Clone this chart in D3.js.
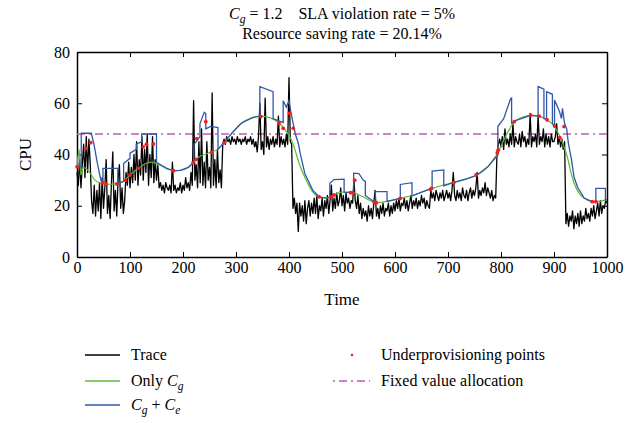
<!DOCTYPE html>
<html>
<head>
<meta charset="utf-8">
<script src="https://cdn.jsdelivr.net/npm/d3@7"></script>
<style>
  body { margin: 0; background: #fff; }
  text { font-family: "Liberation Serif", "DejaVu Serif", serif; }
</style>
</head>
<body>
<script>
  // trace, sampled every 2.5 time units (0..1000)
  let traceStep = 2.5;
  let traceValues = [
    33, 28, 38, 27, 36, 44, 31, 47, 33, 46, 36, 22, 17, 28, 16, 26, 18, 29, 15, 31,
    19, 27, 38, 17, 24, 15, 29, 41, 18, 26, 16, 30, 36, 19, 27, 17, 22, 33, 28, 37,
    27, 35, 29, 40, 30, 45, 28, 38, 32, 47, 30, 42, 33, 48, 28, 40, 31, 47, 29, 38,
    30, 36, 27, 29, 26, 28, 25, 29, 27, 26, 28, 25, 37, 26, 28, 25, 27, 26, 29, 25,
    28, 26, 31, 27, 29, 26, 33, 28, 61, 30, 36, 27, 45, 29, 50, 28, 37, 27, 45, 30,
    35, 27, 64, 28, 38, 27, 42, 29, 34, 27, 44, 46, 44, 47, 45, 46, 44, 47, 45, 46,
    44, 47, 45, 46, 44, 46, 45, 47, 44, 46, 45, 47, 44, 46, 43, 45, 41, 47, 60, 42,
    45, 40, 62, 43, 47, 42, 46, 44, 47, 43, 46, 44, 55, 43, 47, 44, 46, 43, 48, 44,
    70, 45, 44, 19, 23, 17, 21, 10, 21, 16, 20, 14, 22, 13, 19, 22, 16, 21, 17, 23,
    17, 24, 15, 20, 18, 23, 16, 22, 19, 24, 17, 22, 28, 18, 23, 19, 25, 20, 22, 27,
    20, 24, 18, 25, 21, 23, 19, 22, 21, 30, 22, 19, 24, 17, 21, 15, 19, 16, 18, 14,
    20, 16, 19, 15, 21, 26, 16, 19, 15, 20, 17, 21, 16, 19, 18, 21, 16, 20, 17, 21,
    18, 22, 19, 23, 18, 21, 20, 23, 19, 22, 18, 21, 24, 19, 22, 20, 23, 19, 22, 20,
    24, 21, 23, 19, 22, 20, 19, 26, 23, 25, 22, 26, 24, 22, 25, 23, 26, 22, 24, 26,
    23, 25, 22, 26, 33, 24, 22, 26, 23, 25, 22, 27, 24, 23, 26, 22, 25, 27, 23, 26,
    24, 27, 33, 23, 26, 24, 27, 25, 29, 24, 27, 25, 23, 26, 22, 24, 23, 41, 44, 46,
    43, 47, 42, 50, 44, 46, 43, 48, 44, 52, 43, 47, 45, 44, 48, 43, 49, 45, 47, 43,
    46, 44, 56, 43, 47, 45, 48, 43, 55, 44, 47, 45, 50, 43, 48, 44, 47, 43, 48, 45,
    45, 47, 52, 44, 47, 43, 46, 42, 45, 13, 17, 12, 16, 14, 18, 11, 16, 13, 17, 12,
    18, 13, 16, 14, 19, 15, 17, 14, 19, 16, 20, 15, 18, 21, 16, 22, 17, 20, 19, 22,
    21
  ];

  // only Cg
  let greenTimes = [0, 4, 7, 12, 20, 34, 45, 59, 75, 90, 100, 116, 130, 141, 155, 170, 182, 195, 210, 219,
    230, 247, 265, 279, 295, 310, 330, 348, 365, 382, 395, 405, 411, 420, 430, 440, 455, 470, 485, 500,
    520, 540, 563, 585, 610, 640, 667, 690, 711, 735, 755, 775, 787, 795, 806, 815, 825, 840, 856, 872,
    887, 900, 911, 918, 925, 932, 938, 947, 957, 972, 985, 1000];
  let greenValues = [35, 42, 32, 35, 34, 30, 28.8, 28.4, 28.5, 30, 32, 34.6, 36.5, 37, 36, 34.5, 33.7, 33.8, 35, 36.8,
    39, 40.5, 42, 45, 49, 52.2, 54.3, 55, 54.3, 52.2, 49, 45.5, 42, 36, 31, 27, 23.5, 23, 24.2, 25.3,
    25.1, 23.5, 21.2, 21.7, 22.9, 24.5, 26.6, 28, 29.1, 30.5, 32, 35.2, 38.5, 41, 46, 49.5, 52.8, 54.5, 55.3, 55,
    53.5, 51.2, 47, 43.5, 39.2, 33, 28.8, 25, 22.9, 21.6, 21.7, 22.5];

  // Cg + Ce
  let blueTimes = [0, 8, 8, 27, 32, 38, 45, 49, 49, 77, 77, 88, 88, 100, 100, 112, 112, 122, 122, 150,
    150, 160, 170, 182, 195, 210, 220, 221, 232, 232, 240, 243, 243, 252, 266, 266, 279, 295, 310, 330,
    345, 345, 370, 370, 382, 389, 389, 395, 400, 404, 408, 412, 418, 421, 430, 445, 457, 470, 477, 477,
    485, 504, 504, 520, 522, 522, 532, 540, 544, 544, 563, 563, 585, 585, 610, 610, 632, 632, 650, 670,
    670, 692, 692, 711, 735, 755, 775, 790, 794, 794, 805, 818, 820, 820, 830, 856, 870, 870, 881, 881,
    886, 886, 897, 897, 901, 901, 910, 914, 916, 920, 924, 927, 933, 938, 945, 957, 972, 979, 979, 997,
    997, 1000];
  let blueValues = [35.2, 35.2, 48.3, 48.3, 44, 37, 30, 29, 34.6, 34.6, 28.5, 29.5, 36.5, 38.5, 40.5, 42, 44, 45, 48, 48,
    37, 35.7, 34.5, 33.7, 33.8, 35, 36.8, 44, 47, 52, 56.5, 56, 50, 51, 50.5, 42, 45, 49, 52.2, 54.3,
    55, 66.5, 64.5, 54, 53, 52.5, 61, 58.5, 61, 56, 52, 48, 44, 40.5, 32.5, 26, 23.5, 23, 23.3, 28.8,
    30.2, 30.4, 25.3, 25.1, 25.1, 32.7, 32.5, 30, 29.5, 24, 21.2, 25.5, 25.5, 21.7, 22.9, 28.3, 29, 23.8, 25.3, 26.8,
    33.5, 34, 27.8, 29.1, 30.5, 32, 35.2, 38.8, 39.5, 50.9, 54, 61.7, 62, 52.2, 53.4, 55.3, 55, 66.5, 65.5, 54,
    53.7, 64.5, 63.5, 52, 51.2, 61.3, 57, 54, 58, 52, 50, 44.5, 38, 31, 27, 23, 21.6, 21.6, 26.8, 26.8,
    22.3, 22.5];

  // underprovisioning points
  let underTimes = [0, 17, 26, 48, 55, 75, 91, 100, 116, 125, 131, 144, 182, 219, 225, 226, 243, 254, 278, 347,
    381, 389, 401, 408, 457, 479, 485, 516, 520, 524, 561, 565, 610, 667, 669, 711, 753, 793, 795, 825,
    856, 872, 887, 901, 911, 919, 972, 979];
  let underValues = [35.2, 42.4, 44.6, 29, 28.5, 28.5, 30, 32, 34.6, 43, 44, 44.1, 33.7, 36.8, 38.1, 46.2, 52.8, 40.8, 44.6, 54.8,
    52.2, 50.2, 56.1, 50.2, 23.5, 23.5, 24.2, 25.1, 25.1, 30, 21.3, 21.2, 22.9, 26.4, 26.8, 29.1, 32, 40.7, 41.8, 52.8,
    55.4, 55, 53.5, 51.1, 46.6, 50.9, 21.6, 21.6];

  let fixedValue = 48;

  let xTicks = [0, 100, 200, 300, 400, 500, 600, 700, 800, 900, 1000];
  let yTicks = [0, 20, 40, 60, 80];

  let colors = {
    trace: "#000000",
    green: "#5cb83a",
    blue: "#3157a8",
    red: "#ff1a1a",
    fixed: "#c455bc"
  };

  let svg = "";
  let margin = { left: 77, right: 31, top: 52, bottom: 166 };
  let width = 638;
  let height = 423;

  window.onload = function() {
    svg = d3.select("body")
      .append("svg")
      .attr("width", width)
      .attr("height", height);

    let scales = drawAxes();
    plotLines(scales);
    makeTitle();
    makeLegend();
  };

  function drawAxes() {
    let xScale = d3.scaleLinear()
      .domain([0, 1000])
      .range([margin.left, width - margin.right]);
    let yScale = d3.scaleLinear()
      .domain([0, 80])
      .range([height - margin.bottom, margin.top]);

    let bottom = height - margin.bottom;
    let right = width - margin.right;

    let xAxis = svg.append("g")
      .attr("transform", "translate(0," + bottom + ")")
      .call(d3.axisBottom(xScale).tickValues(xTicks).tickFormat(d3.format("d"))
        .tickSizeInner(-5).tickSizeOuter(0).tickPadding(5));
    let yAxis = svg.append("g")
      .attr("transform", "translate(" + margin.left + ",0)")
      .call(d3.axisLeft(yScale).tickValues(yTicks)
        .tickSizeInner(-5).tickSizeOuter(0).tickPadding(7));
    let topAxis = svg.append("g")
      .attr("transform", "translate(0," + margin.top + ")")
      .call(d3.axisTop(xScale).tickValues(xTicks).tickFormat("")
        .tickSizeInner(-5).tickSizeOuter(0));
    let rightAxis = svg.append("g")
      .attr("transform", "translate(" + right + ",0)")
      .call(d3.axisRight(yScale).tickValues(yTicks).tickFormat("")
        .tickSizeInner(-5).tickSizeOuter(0));

    [xAxis, yAxis, topAxis, rightAxis].forEach((g) => {
      g.select(".domain").attr("stroke", "#000").attr("stroke-width", 1.5);
      g.selectAll(".tick line").attr("stroke", "#000").attr("stroke-width", 1);
      g.selectAll(".tick text")
        .style("font-family", "Liberation Serif")
        .style("font-size", "16px")
        .attr("fill", "#000");
    });

    svg.append("text")
      .attr("x", (margin.left + right) / 2)
      .attr("y", 305)
      .attr("text-anchor", "middle")
      .style("font-size", "17px")
      .text("Time");

    svg.append("text")
      .attr("transform", "translate(31," + ((margin.top + bottom) / 2) + ")rotate(-90)")
      .attr("text-anchor", "middle")
      .style("font-size", "17px")
      .text("CPU");

    return { x: xScale, y: yScale };
  }

  function plotLines(scales) {
    let plot = svg.append("g");

    // fixed value allocation
    plot.append("line")
      .attr("x1", scales.x(0))
      .attr("x2", scales.x(1000))
      .attr("y1", scales.y(fixedValue))
      .attr("y2", scales.y(fixedValue))
      .attr("stroke", colors.fixed)
      .attr("stroke-width", 1.3)
      .attr("stroke-dasharray", "8,4,2,4");

    let traceData = traceValues.map((v, i) => [i * traceStep, v]);
    let line = d3.line()
      .x((d) => scales.x(d[0]))
      .y((d) => scales.y(d[1]));

    plot.append("path")
      .datum(traceData)
      .attr("fill", "none")
      .attr("stroke", colors.trace)
      .attr("stroke-width", 1.3)
      .attr("stroke-linejoin", "round")
      .attr("d", line);

    let greenData = greenTimes.map((t, i) => [t, greenValues[i]]);
    plot.append("path")
      .datum(greenData)
      .attr("fill", "none")
      .attr("stroke", colors.green)
      .attr("stroke-width", 1.2)
      .attr("d", line.curve(d3.curveMonotoneX));

    let blueData = blueTimes.map((t, i) => [t, blueValues[i]]);
    plot.append("path")
      .datum(blueData)
      .attr("fill", "none")
      .attr("stroke", colors.blue)
      .attr("stroke-width", 1.3)
      .attr("d", d3.line()
        .x((d) => scales.x(d[0]))
        .y((d) => scales.y(d[1]))
        .curve(d3.curveLinear));

    let underData = underTimes.map((t, i) => [t, underValues[i]]);
    plot.selectAll(".under")
      .data(underData)
      .enter()
      .append("circle")
        .attr("class", "under")
        .attr("cx", (d) => scales.x(d[0]))
        .attr("cy", (d) => scales.y(d[1]))
        .attr("r", 1.9)
        .attr("fill", colors.red);
  }

  // text with italic C and subscript
  function addC(textSel, sub) {
    textSel.append("tspan").style("font-style", "italic").text("C");
    textSel.append("tspan").style("font-style", "italic")
      .style("font-size", "0.72em").attr("dy", 4).text(sub);
    return textSel;
  }

  function makeTitle() {
    let cx = (margin.left + width - margin.right) / 2;
    let t1 = svg.append("text")
      .attr("x", cx)
      .attr("y", 19)
      .attr("text-anchor", "middle")
      .style("font-size", "16px")
      .style("white-space", "pre");
    addC(t1, "g");
    t1.append("tspan").attr("dy", -4).text(" = 1.2    SLA violation rate = 5%");

    svg.append("text")
      .attr("x", cx)
      .attr("y", 39)
      .attr("text-anchor", "middle")
      .style("font-size", "16px")
      .text("Resource saving rate = 20.14%");
  }

  function makeLegend() {
    let rows = [355, 381, 405];
    let leg = svg.append("g").style("font-size", "16px");

    let items = [
      { y: rows[0], color: colors.trace },
      { y: rows[1], color: colors.green },
      { y: rows[2], color: colors.blue }
    ];
    items.forEach((it) => {
      leg.append("line")
        .attr("x1", 85).attr("x2", 120)
        .attr("y1", it.y).attr("y2", it.y)
        .attr("stroke", it.color)
        .attr("stroke-width", 1.3);
    });

    leg.append("text").attr("x", 131).attr("y", rows[0] + 5).text("Trace");

    let t2 = leg.append("text").attr("x", 131).attr("y", rows[1] + 5).style("white-space", "pre");
    t2.append("tspan").text("Only ");
    addC(t2, "g");

    let t3 = leg.append("text").attr("x", 131).attr("y", rows[2] + 5).style("white-space", "pre");
    addC(t3, "g");
    t3.append("tspan").attr("dy", -4).text(" + ");
    addC(t3, "e");

    leg.append("circle")
      .attr("cx", 352).attr("cy", rows[0])
      .attr("r", 1.3)
      .attr("fill", colors.red);
    leg.append("text").attr("x", 381).attr("y", rows[0] + 5).text("Underprovisioning points");

    leg.append("line")
      .attr("x1", 333).attr("x2", 370)
      .attr("y1", rows[1]).attr("y2", rows[1])
      .attr("stroke", colors.fixed)
      .attr("stroke-width", 1.3)
      .attr("stroke-dasharray", "2,4,8,4");
    leg.append("text").attr("x", 381).attr("y", rows[1] + 5).text("Fixed value allocation");
  }
</script>
</body>
</html>
